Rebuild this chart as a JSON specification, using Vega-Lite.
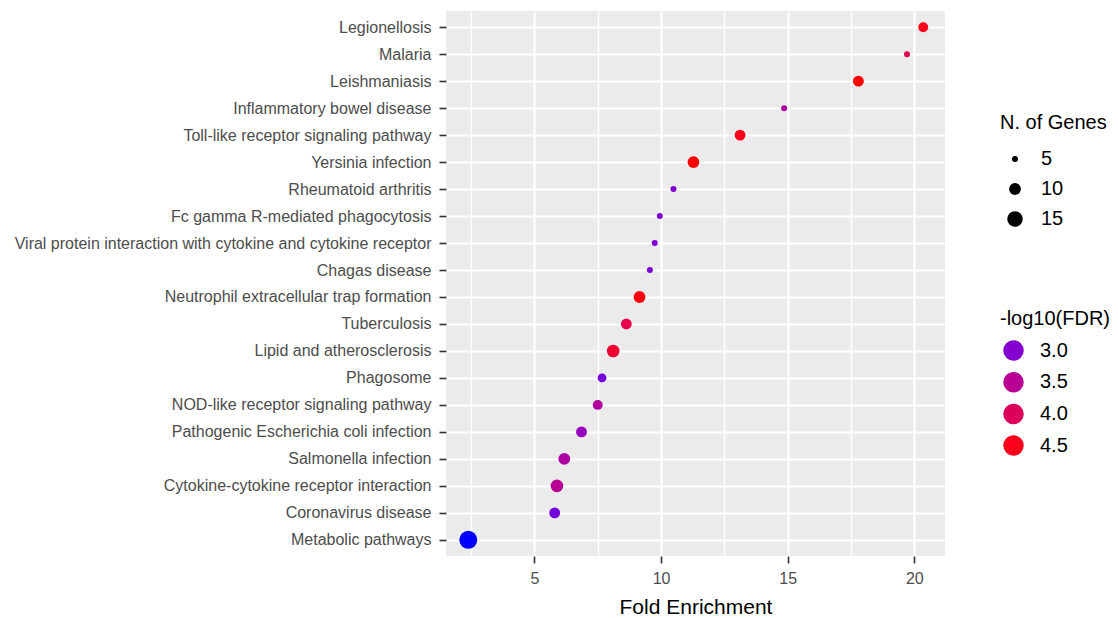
{
  "$schema": "https://vega.github.io/schema/vega-lite/v6.json",
  "width": 499,
  "height": 545,
  "autosize": {"type": "none"},
  "padding": {"left": 446, "top": 11, "right": 173, "bottom": 62},
  "background": "white",
  "config": {
    "font": "Liberation Sans",
    "view": {"fill": "#ebebeb", "stroke": null}
  },
  "data": {
    "values": [
      {"pathway": "Legionellosis", "fe": 20.35, "genes": 8, "lfdr": 4.5},
      {"pathway": "Malaria", "fe": 19.71, "genes": 5, "lfdr": 4.1},
      {"pathway": "Leishmaniasis", "fe": 17.79, "genes": 9, "lfdr": 4.6},
      {"pathway": "Inflammatory bowel disease", "fe": 14.86, "genes": 5, "lfdr": 3.4},
      {"pathway": "Toll-like receptor signaling pathway", "fe": 13.12, "genes": 9, "lfdr": 4.5},
      {"pathway": "Yersinia infection", "fe": 11.28, "genes": 10, "lfdr": 4.6},
      {"pathway": "Rheumatoid arthritis", "fe": 10.49, "genes": 5, "lfdr": 2.95},
      {"pathway": "Fc gamma R-mediated phagocytosis", "fe": 9.95, "genes": 5, "lfdr": 2.95},
      {"pathway": "Viral protein interaction with cytokine and cytokine receptor", "fe": 9.75, "genes": 5, "lfdr": 2.95},
      {"pathway": "Chagas disease", "fe": 9.56, "genes": 5, "lfdr": 2.95},
      {"pathway": "Neutrophil extracellular trap formation", "fe": 9.15, "genes": 10, "lfdr": 4.55},
      {"pathway": "Tuberculosis", "fe": 8.63, "genes": 9, "lfdr": 4.15},
      {"pathway": "Lipid and atherosclerosis", "fe": 8.11, "genes": 11, "lfdr": 4.35},
      {"pathway": "Phagosome", "fe": 7.67, "genes": 7, "lfdr": 2.9},
      {"pathway": "NOD-like receptor signaling pathway", "fe": 7.5, "genes": 8, "lfdr": 3.4},
      {"pathway": "Pathogenic Escherichia coli infection", "fe": 6.86, "genes": 9, "lfdr": 3.15},
      {"pathway": "Salmonella infection", "fe": 6.18, "genes": 10, "lfdr": 3.35},
      {"pathway": "Cytokine-cytokine receptor interaction", "fe": 5.89, "genes": 11, "lfdr": 3.5},
      {"pathway": "Coronavirus disease", "fe": 5.8, "genes": 9, "lfdr": 2.9},
      {"pathway": "Metabolic pathways", "fe": 2.39, "genes": 19, "lfdr": 2.6}
    ]
  },
  "mark": {"type": "circle", "opacity": 1},
  "encoding": {
    "y": {
      "field": "pathway",
      "type": "nominal",
      "sort": null,
      "scale": {"type": "point", "padding": 0.6},
      "axis": {
        "title": null,
        "domain": false,
        "grid": true,
        "gridColor": "white",
        "gridWidth": 2.2,
        "gridOpacity": 1,
        "tickColor": "#333333",
        "tickSize": 7,
        "tickWidth": 1.6,
        "labelFontSize": 16,
        "labelColor": "#4d4d4d",
        "labelPadding": 8,
        "labelLimit": 0
      }
    },
    "x": {
      "field": "fe",
      "type": "quantitative",
      "scale": {"domain": [1.51, 21.21], "nice": false, "zero": false},
      "axis": {
        "title": "Fold Enrichment",
        "titleFontSize": 21,
        "titleFontWeight": "normal",
        "titleColor": "black",
        "titlePadding": 10,
        "domain": false,
        "values": [2.5, 5, 7.5, 10, 12.5, 15, 17.5, 20],
        "labelExpr": "datum.value % 5 === 0 ? datum.label : ''",
        "grid": true,
        "gridColor": "white",
        "gridOpacity": 1,
        "gridWidth": {"condition": {"test": "datum.value % 5 === 0", "value": 2.2}, "value": 1.4},
        "tickColor": {"condition": {"test": "datum.value % 5 === 0", "value": "#333333"}, "value": "transparent"},
        "tickSize": 7,
        "tickWidth": 1.6,
        "labelFontSize": 16,
        "labelColor": "#4d4d4d",
        "labelPadding": 7
      }
    },
    "size": {
      "field": "genes",
      "type": "quantitative",
      "title": "N. of Genes",
      "scale": {"domain": [5, 19], "range": [36, 324], "zero": false},
      "legend": {
        "orient": "none",
        "legendX": 554,
        "legendY": 102,
        "values": [5, 10, 15],
        "titleFontSize": 20,
        "titleFontWeight": "normal",
        "titleColor": "black",
        "titlePadding": 16,
        "labelFontSize": 20,
        "labelColor": "black",
        "labelOffset": 16,
        "rowPadding": 10,
        "symbolFillColor": "black",
        "symbolStrokeWidth": 0,
        "symbolType": "circle",
        "symbolOffset": 5
      }
    },
    "color": {
      "field": "lfdr",
      "type": "quantitative",
      "title": "-log10(FDR)",
      "scale": {"domain": [2.6, 4.6], "range": ["blue", "red"], "interpolate": "lab"},
      "legend": {
        "type": "symbol",
        "orient": "none",
        "legendX": 554,
        "legendY": 298,
        "values": [3.0, 3.5, 4.0, 4.5],
        "format": ".1f",
        "titleFontSize": 20,
        "titleFontWeight": "normal",
        "titleColor": "black",
        "titlePadding": 11,
        "labelFontSize": 20,
        "labelColor": "black",
        "labelOffset": 16,
        "rowPadding": 10.7,
        "symbolSize": 420,
        "symbolType": "circle",
        "symbolStrokeWidth": 0,
        "symbolOffset": 3
      }
    }
  }
}
